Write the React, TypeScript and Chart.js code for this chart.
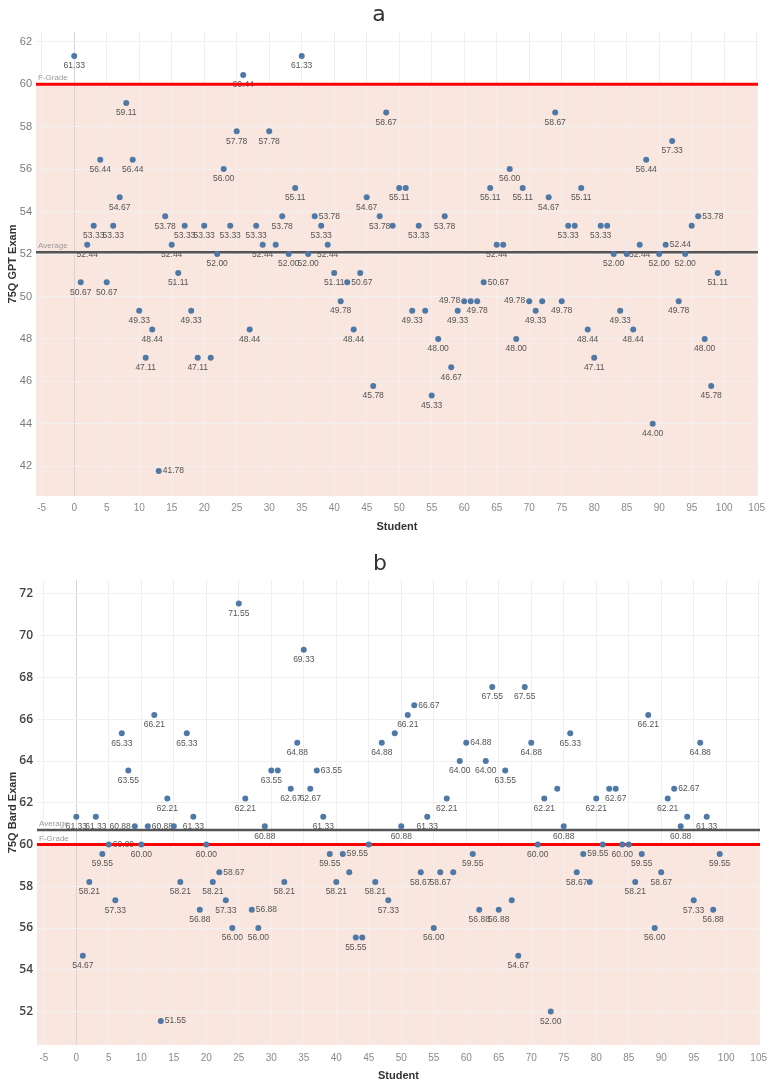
import { useEffect, useRef } from 'react';
import { Chart, registerables } from 'chart.js';

Chart.register(...registerables);

// 75-question exam scores per student (index = student number)
const GPT_SCORES = [
  61.33, 50.67, 52.44, 53.33, 56.44, 50.67, 53.33, 54.67, 59.11, 56.44,
  49.33, 47.11, 48.44, 41.78, 53.78, 52.44, 51.11, 53.33, 49.33, 47.11,
  53.33, 47.11, 52.0, 56.0, 53.33, 57.78, 60.44, 48.44, 53.33, 52.44,
  57.78, 52.44, 53.78, 52.0, 55.11, 61.33, 52.0, 53.78, 53.33, 52.44,
  51.11, 49.78, 50.67, 48.44, 51.11, 54.67, 45.78, 53.78, 58.67, 53.33,
  55.11, 55.11, 49.33, 53.33, 49.33, 45.33, 48.0, 53.78, 46.67, 49.33,
  49.78, 49.78, 49.78, 50.67, 55.11, 52.44, 52.44, 56.0, 48.0, 55.11,
  49.78, 49.33, 49.78, 54.67, 58.67, 49.78, 53.33, 53.33, 55.11, 48.44,
  47.11, 53.33, 53.33, 52.0, 49.33, 52.0, 48.44, 52.44, 56.44, 44.0,
  52.0, 52.44, 57.33, 49.78, 52.0, 53.33, 53.78, 48.0, 45.78, 51.11,
];

const BARD_SCORES = [
  61.33, 54.67, 58.21, 61.33, 59.55, 60.0, 57.33, 65.33, 63.55, 60.88,
  60.0, 60.88, 66.21, 51.55, 62.21, 60.88, 58.21, 65.33, 61.33, 56.88,
  60.0, 58.21, 58.67, 57.33, 56.0, 71.55, 62.21, 56.88, 56.0, 60.88,
  63.55, 63.55, 58.21, 62.67, 64.88, 69.33, 62.67, 63.55, 61.33, 59.55,
  58.21, 59.55, 58.67, 55.55, 55.55, 60.0, 58.21, 64.88, 57.33, 65.33,
  60.88, 66.21, 66.67, 58.67, 61.33, 56.0, 58.67, 62.21, 58.67, 64.0,
  64.88, 59.55, 56.88, 64.0, 67.55, 56.88, 63.55, 57.33, 54.67, 67.55,
  64.88, 60.0, 62.21, 52.0, 62.67, 60.88, 65.33, 58.67, 59.55, 58.21,
  62.21, 60.0, 62.67, 62.67, 60.0, 60.0, 58.21, 59.55, 66.21, 56.0,
  58.67, 62.21, 62.67, 60.88, 61.33, 57.33, 64.88, 61.33, 56.88, 59.55,
];

// Where each value label sits: b = below, r = right, l = left, n = hidden
const GPT_LABEL_SIDES = [
  'bbbbbbbbbb', 'bbbrbbbbbb', 'bnbbbbbbbb', 'bnbbbbbrbb', 'bbrbnbbbbn',
  'bnbbnbbbbb', 'lnbrbbnbbb', 'lbnbbbbnbb', 'bbnbbnbbbb', 'brbbbnrbbb',
].join('').split('');

const BARD_LABEL_SIDES = [
  'bbbbbrbbbl', 'brbrbnbbbb', 'bbrbbbbrbb', 'bnbbbbbrbb', 'brnbnnbbbn',
  'bbrbbbbbnb', 'rbbbbbbnbb', 'bbbbnbbbrn', 'bnnbbnbbbb', 'bbrbnbbbbb',
].join('').split('');

const X_TICKS = [-5, 0, 5, 10, 15, 20, 25, 30, 35, 40, 45, 50, 55, 60, 65, 70, 75, 80, 85, 90, 95, 100, 105];
const GPT_Y_TICKS = [42, 44, 46, 48, 50, 52, 54, 56, 58, 60, 62];
const BARD_Y_TICKS = [52, 54, 56, 58, 60, 62, 64, 66, 68, 70, 72];
const F_GRADE = 60;

const POINT_COLOR = '#4e79a7';
const BAND_COLOR = 'rgb(249, 230, 222)';
const AVG_COLOR = '#555555';
const FGRADE_COLOR = '#ff0000';
const NARROW = "'Liberation Sans Narrow', 'Liberation Sans', sans-serif";
const VALUE_FONT = `8.5px ${NARROW}`;
const REF_LABEL_FONT = `8px ${NARROW}`;

// Band below the F-Grade line, value labels, and the Average / F-Grade lines
const examOverlay = {
  id: 'examOverlay',
  beforeDraw(chart: any, _args: any, opts: any) {
    const { ctx, chartArea: a, scales } = chart;
    const yF = scales.y.getPixelForValue(opts.fGrade);
    ctx.save();
    ctx.fillStyle = BAND_COLOR;
    ctx.fillRect(a.left, yF, a.right - a.left, a.bottom - yF);
    ctx.restore();
  },
  beforeDatasetsDraw(chart: any, _args: any, opts: any) {
    const { ctx, chartArea: a, scales } = chart;
    const meta = chart.getDatasetMeta(0);
    ctx.save();
    ctx.font = VALUE_FONT;
    ctx.fillStyle = '#555';
    ctx.textBaseline = 'middle';
    meta.data.forEach((pt: any, i: number) => {
      const side = opts.sides[i];
      if (side === 'n') return;
      const text = opts.scores[i].toFixed(2);
      if (side === 'b') {
        ctx.textAlign = 'center';
        ctx.fillText(text, pt.x, pt.y + 10);
      } else if (side === 'r') {
        ctx.textAlign = 'left';
        ctx.fillText(text, pt.x + 4, pt.y);
      } else {
        ctx.textAlign = 'right';
        ctx.fillText(text, pt.x - 4, pt.y);
      }
    });

    const mean = opts.scores.reduce((s: number, v: number) => s + v, 0) / opts.scores.length;
    const refs = [
      { value: mean, color: AVG_COLOR, width: 2.5, label: 'Average' },
      { value: opts.fGrade, color: FGRADE_COLOR, width: 3, label: 'F-Grade' },
    ];
    refs.forEach((r) => {
      const y = scales.y.getPixelForValue(r.value);
      ctx.strokeStyle = r.color;
      ctx.lineWidth = r.width;
      ctx.beginPath();
      ctx.moveTo(a.left, y);
      ctx.lineTo(a.right, y);
      ctx.stroke();
      ctx.font = REF_LABEL_FONT;
      ctx.fillStyle = '#9a9a9a';
      ctx.textAlign = 'left';
      ctx.textBaseline = 'alphabetic';
      ctx.fillText(r.label, a.left + 2, y - 4);
    });
    ctx.restore();
  },
};

type PanelProps = {
  title: string;
  yTitle: string;
  scores: number[];
  sides: string[];
  yTicks: number[];
  yMin: number;
  yMax: number;
  xMin: number;
  xMax: number;
  height: number;
  titlePad: { top: number; bottom: number };
  yAxisWidth: number;
  xAxisHeight: number;
  rightPad: number;
  xTickPad: number;
  xTitlePad: number;
  yTickFont: { family: string; size: number; weight: any };
  yTickColor: string;
};

function ExamPanel(p: PanelProps) {
  const ref = useRef<HTMLCanvasElement>(null);

  useEffect(() => {
    if (!ref.current) return;
    const chart = new Chart(ref.current, {
      type: 'scatter',
      data: {
        datasets: [
          {
            data: p.scores.map((y, i) => ({ x: i, y })),
            backgroundColor: POINT_COLOR,
            borderWidth: 0,
            pointRadius: 3,
            pointHoverRadius: 3,
          },
        ],
      },
      options: {
        animation: false,
        responsive: false,
        events: [],
        layout: { padding: { left: 0, right: p.rightPad, top: 0, bottom: 0 } },
        plugins: {
          legend: { display: false },
          tooltip: { enabled: false },
          title: {
            display: true,
            text: p.title,
            color: '#333',
            font: { family: "'DejaVu Sans', sans-serif", size: 22, weight: 'normal' as any },
            padding: p.titlePad,
          },
          examOverlay: { scores: p.scores, sides: p.sides, fGrade: F_GRADE },
        } as any,
        scales: {
          x: {
            type: 'linear',
            min: p.xMin,
            max: p.xMax,
            afterBuildTicks: (s: any) => {
              s.ticks = X_TICKS.map((v) => ({ value: v }));
            },
            afterFit: (s: any) => {
              s.height = p.xAxisHeight;
              s.paddingLeft = 0;
              s.paddingRight = 0;
            },
            ticks: {
              autoSkip: false,
              maxRotation: 0,
              padding: p.xTickPad,
              color: '#8a8a8a',
              font: { family: NARROW, size: 10 },
            },
            grid: {
              drawTicks: false,
              lineWidth: 1,
              color: (c: any) => (c.tick && c.tick.value === 0 ? '#d4d4d4' : '#efefef'),
            },
            border: { display: false },
            title: {
              display: true,
              text: 'Student',
              color: '#333',
              font: { family: NARROW, size: 11, weight: 'bold' },
              padding: { top: 0, bottom: p.xTitlePad },
            },
          },
          y: {
            type: 'linear',
            min: p.yMin,
            max: p.yMax,
            afterBuildTicks: (s: any) => {
              s.ticks = p.yTicks.map((v) => ({ value: v }));
            },
            afterFit: (s: any) => {
              s.width = p.yAxisWidth;
              s.paddingTop = 0;
              s.paddingBottom = 0;
            },
            ticks: {
              padding: 4,
              color: p.yTickColor,
              font: p.yTickFont,
            },
            grid: { drawTicks: false, color: '#f0f0f0', lineWidth: 1 },
            border: { display: false },
            title: {
              display: true,
              text: p.yTitle,
              color: '#333',
              font: { family: NARROW, size: 11, weight: 'bold' },
              padding: { top: 6, bottom: 0 },
            },
          },
        },
      },
      plugins: [examOverlay as any],
    });
    return () => chart.destroy();
  }, []);

  return <canvas ref={ref} width={771} height={p.height} style={{ display: 'block' }} />;
}

export default function App() {
  return (
    <div style={{ position: 'absolute', left: 0, top: 0, width: 771, background: '#fff' }}>
      <ExamPanel
        title="a"
        yTitle="75Q GPT Exam"
        scores={GPT_SCORES}
        sides={GPT_LABEL_SIDES}
        yTicks={GPT_Y_TICKS}
        yMin={40.6}
        yMax={62.46}
        xMin={-5.88}
        xMax={105.2}
        height={540}
        titlePad={{ top: 2.5, bottom: 3.1 }}
        yAxisWidth={36}
        xAxisHeight={44}
        rightPad={13}
        xTickPad={6}
        xTitlePad={6}
        yTickFont={{ family: NARROW, size: 11, weight: 'normal' }}
        yTickColor="#7a7a7a"
      />
      <ExamPanel
        title="b"
        yTitle="75Q Bard Exam"
        scores={BARD_SCORES}
        sides={BARD_LABEL_SIDES}
        yTicks={BARD_Y_TICKS}
        yMin={50.4}
        yMax={72.67}
        xMin={-6.05}
        xMax={105.2}
        height={548}
        titlePad={{ top: 11.5, bottom: 2.1 }}
        yAxisWidth={37}
        xAxisHeight={43}
        rightPad={11}
        xTickPad={7}
        xTitlePad={5}
        yTickFont={{ family: "'Open Sans', sans-serif", size: 12, weight: 600 }}
        yTickColor="#444"
      />
    </div>
  );
}
